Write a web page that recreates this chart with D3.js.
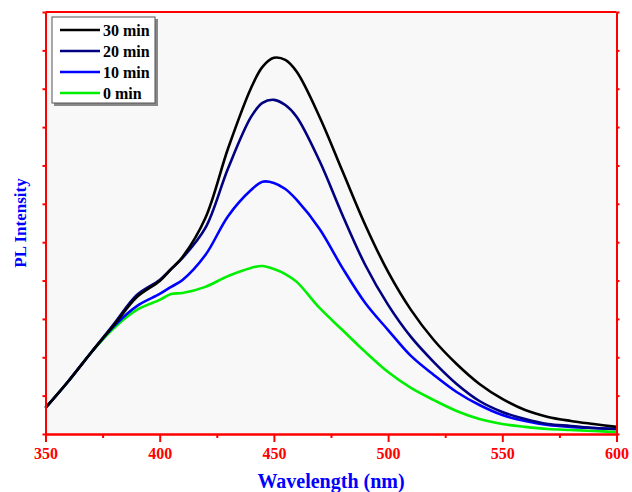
<!DOCTYPE html>
<html>
<head>
<meta charset="utf-8">
<script src="https://cdn.jsdelivr.net/npm/d3@7"></script>
<style>
  body { margin: 0; background: #fff; }
  text { font-family: "Liberation Serif", "Times New Roman", serif; font-weight: bold; }
</style>
</head>
<body>
<div class="pl-chart"></div>
<script>
// wavelengths (nm) shared by every series
const wavelengths = [350, 360, 370, 380, 390, 400, 405, 410, 420, 430, 440, 445, 450, 455, 460, 470, 480, 490, 500, 510, 520, 530, 540, 550, 560, 570, 580, 590, 600];

// PL intensity (a.u.)
const min30 = [1360, 2750, 4250, 5680, 7140, 7980, 8600, 9230, 11260, 14910, 18040, 19140, 19610, 19500, 18880, 16530, 13710, 10900, 8450, 6470, 4900, 3650, 2610, 1830, 1250, 890, 680, 520, 370];
const min20 = [1360, 2750, 4250, 5740, 7250, 8030, 8600, 9180, 10740, 13870, 16530, 17260, 17420, 17150, 16530, 14230, 11420, 8810, 6730, 5060, 3750, 2610, 1720, 1150, 780, 520, 420, 310, 260];
const min10 = [1360, 2750, 4250, 5630, 6670, 7300, 7670, 8030, 9330, 11370, 12720, 13150, 13090, 12770, 12200, 10690, 8660, 6830, 5420, 4070, 3080, 2190, 1510, 990, 680, 470, 370, 310, 260];
const min0 = [1360, 2750, 4250, 5530, 6470, 6990, 7300, 7350, 7670, 8240, 8660, 8760, 8600, 8340, 7930, 6570, 5420, 4280, 3230, 2400, 1770, 1200, 780, 520, 370, 260, 210, 160, 100];

const seriesNames = ["30 min", "20 min", "10 min", "0 min"];
const seriesColors = ["#000000", "#000080", "#0000ff", "#00ee00"];
const xTicks = [350, 400, 450, 500, 550, 600];
const xMinorTicks = [375, 425, 475, 525, 575];

const width = 632;
const height = 492;
const margin = {top: 12, right: 15.5, bottom: 58, left: 45.5};

const svg = d3.select(".pl-chart")
    .append("svg")
    .attr("width", width)
    .attr("height", height);

const x = d3.scaleLinear().domain([350, 600]).range([margin.left, width - margin.right]);
const y = d3.scaleLinear().domain([0, 22000]).range([height - margin.bottom, margin.top]);

// plot background
svg.append("rect")
    .attr("x", x(350))
    .attr("y", y(22000))
    .attr("width", x(600) - x(350))
    .attr("height", y(0) - y(22000))
    .attr("fill", "#f8f8f8");

// curves, drawn so that 30 min ends up on top
const line = d3.line()
    .x((d, i) => x(wavelengths[i]))
    .y(d => y(d))
    .curve(d3.curveCatmullRom.alpha(0.5));

const allSeries = [min30, min20, min10, min0];
svg.selectAll(".curve")
    .data(allSeries.slice().reverse())
    .enter()
    .append("path")
    .attr("class", "curve")
    .attr("fill", "none")
    .attr("stroke", (d, i) => seriesColors[3 - i])
    .attr("stroke-width", 2.6)
    .attr("stroke-linejoin", "round")
    .attr("d", line);

// axes
const axisColor = "#ff0000";
const xAxis = svg.append("g")
    .attr("transform", `translate(0,${y(0)})`)
    .call(d3.axisBottom(x).tickValues(xTicks).tickSize(8).tickSizeOuter(0).tickPadding(6));
const xMinor = svg.append("g")
    .attr("transform", `translate(0,${y(0)})`)
    .call(d3.axisBottom(x).tickValues(xMinorTicks).tickSize(4).tickSizeOuter(0).tickFormat(""));
const yLeft = svg.append("g")
    .attr("transform", `translate(${x(350)},0)`)
    .call(d3.axisLeft(y).ticks(11).tickSize(3).tickSizeOuter(0).tickFormat(""));
const yRight = svg.append("g")
    .attr("transform", `translate(${x(600)},0)`)
    .call(d3.axisRight(y).ticks(11).tickSize(3).tickSizeOuter(0).tickFormat(""));

[xAxis, xMinor, yLeft, yRight].forEach(g => {
    g.selectAll("line").attr("stroke", axisColor).attr("stroke-width", 2);
    g.select(".domain").attr("stroke", axisColor).attr("stroke-width", 2);
});
xAxis.selectAll("text")
    .attr("fill", axisColor)
    .style("font-size", "16px")
    .style("font-family", "'Liberation Serif', serif")
    .style("font-weight", "bold");

// top frame line
svg.append("line")
    .attr("x1", x(350)).attr("x2", x(600))
    .attr("y1", y(22000)).attr("y2", y(22000))
    .attr("stroke", axisColor)
    .attr("stroke-width", 2);

// axis titles
svg.append("text")
    .attr("x", (x(350) + x(600)) / 2)
    .attr("y", 488)
    .attr("text-anchor", "middle")
    .attr("fill", "#0000ff")
    .style("font-size", "20px")
    .text("Wavelength (nm)");

svg.append("text")
    .attr("transform", `translate(26,${(y(0) + y(22000)) / 2}) rotate(-90)`)
    .attr("text-anchor", "middle")
    .attr("fill", "#0000ff")
    .style("font-size", "17px")
    .text("PL Intensity");

// legend
const legend = svg.append("g").attr("transform", "translate(52,17)");
legend.append("rect")
    .attr("x", 2).attr("y", 2)
    .attr("width", 104).attr("height", 87)
    .attr("fill", "#888");
legend.append("rect")
    .attr("x", 0).attr("y", 0)
    .attr("width", 103).attr("height", 86)
    .attr("fill", "#ffffff")
    .attr("stroke", "#555")
    .attr("stroke-width", 1);

const rows = legend.selectAll(".row")
    .data(seriesNames)
    .enter()
    .append("g")
    .attr("class", "row")
    .attr("transform", (d, i) => `translate(0,${13 + i * 21})`);
rows.append("line")
    .attr("x1", 8).attr("x2", 48)
    .attr("stroke", (d, i) => seriesColors[i])
    .attr("stroke-width", 2.6);
rows.append("text")
    .attr("x", 51)
    .attr("dy", "0.35em")
    .attr("fill", "#000")
    .style("font-size", "16px")
    .text(d => d);
</script>
</body>
</html>
